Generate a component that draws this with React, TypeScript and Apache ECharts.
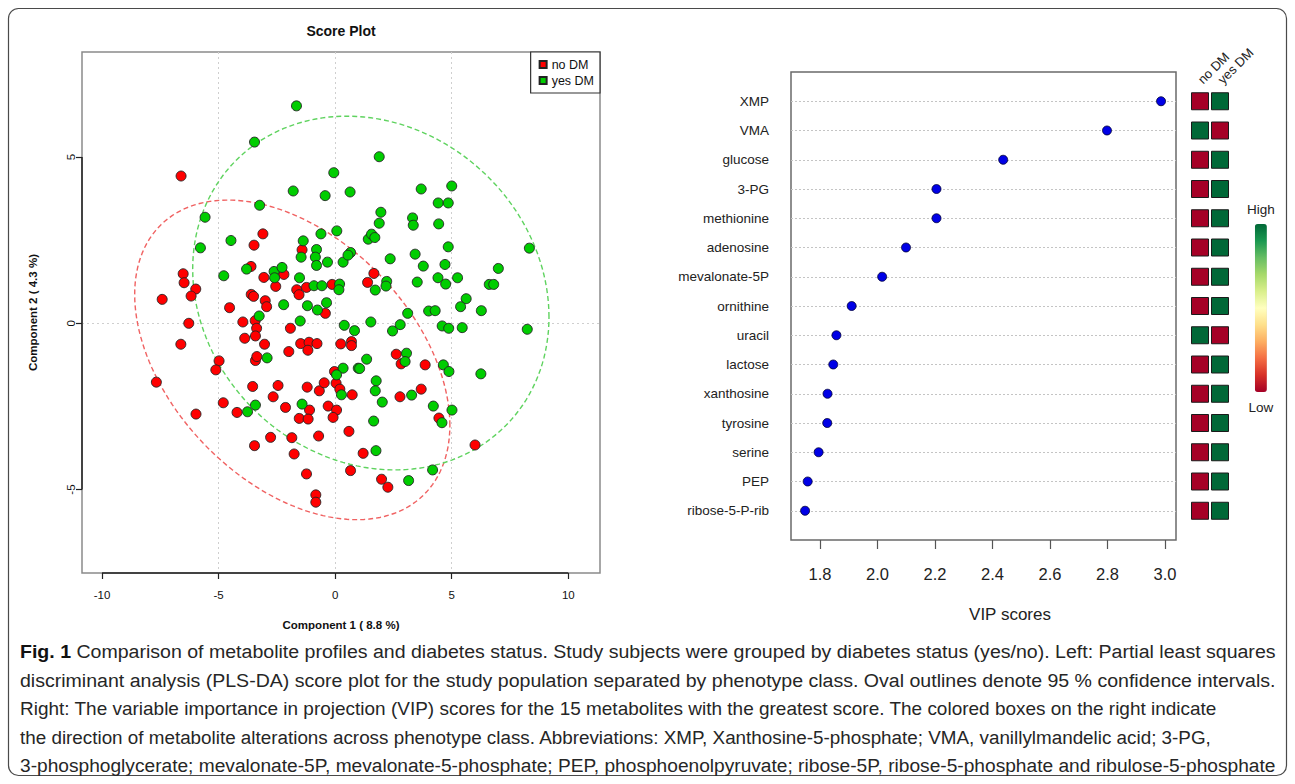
import React, { useEffect, useRef } from "react";
import * as echarts from "echarts";

// ---------- Score plot data (Component 1, Component 2) ----------
const noDM: number[][] = [
  [-6.61, 4.43], [-3.1, 2.69], [-3.48, 2.35], [-1.42, 2.21], [-6.52, 1.49], [-6.48, 1.22],
  [-5.98, 1.03], [-6.18, 0.82], [-7.42, 0.72], [-3.61, 1.71], [-3.06, 1.38], [-2.2, 1.47],
  [-2.55, 1.11], [-1.65, 1.01], [-1.55, 0.86], [-1.23, 1.08], [-0.13, 1.17], [-3.6, 0.87],
  [-3.5, 0.81], [-3.0, 0.68], [-2.94, 0.5], [-4.53, 0.47], [-0.42, 0.3], [-6.28, 0.0],
  [-3.96, 0.04], [-3.43, 0.08], [-3.37, -0.15], [-3.42, -0.38], [-1.92, -0.15], [-6.62, -0.63],
  [-3.88, -0.45], [-3.03, -0.63], [-1.99, -0.85], [-1.48, -0.61], [-1.12, -0.57], [-1.17, -0.81],
  [-0.78, -0.61], [0.24, -0.62], [0.7, -0.55], [0.7, -0.67], [-4.98, -1.13], [-5.12, -1.4],
  [-3.42, -1.12], [-3.36, -1.0], [-7.67, -1.77], [-3.54, -1.9], [-2.45, -1.87], [-2.66, -2.21],
  [-1.2, -1.92], [-0.68, -2.03], [-0.47, -1.79], [-0.03, -1.45], [0.04, -1.8], [0.2, -1.98],
  [0.73, -2.15], [-4.8, -2.39], [-4.21, -2.68], [-5.97, -2.73], [-2.13, -2.53], [-1.1, -2.61],
  [-1.54, -2.86], [-1.16, -2.88], [-0.3, -2.49], [0.06, -2.61], [-0.09, -2.83], [-2.77, -3.43],
  [-3.46, -3.68], [-1.86, -3.44], [-1.76, -3.93], [-0.71, -3.39], [0.59, -3.25], [-1.23, -4.53],
  [-0.83, -5.16], [-0.83, -5.38], [0.66, -4.43], [1.2, -3.91], [1.66, 1.5], [1.39, 1.23],
  [2.62, -0.93], [2.83, -1.22], [3.86, -1.25], [3.69, -1.98], [2.78, -2.21], [4.45, -2.85],
  [1.99, -4.69], [2.26, -4.93], [6.0, -3.66],
];

const yesDM: number[][] = [
  [-1.66, 6.54], [-3.46, 5.45], [-0.06, 4.53], [-1.8, 3.98], [-0.43, 3.84], [0.64, 3.95],
  [-3.24, 3.55], [-5.58, 3.19], [0.07, 2.78], [-0.61, 2.69], [-5.78, 2.27], [-4.47, 2.49],
  [-1.37, 2.48], [-0.8, 2.22], [-1.46, 1.99], [-0.85, 1.99], [-0.33, 1.84], [-0.8, 1.74],
  [0.34, 1.84], [0.66, 2.13], [0.55, 2.05], [-3.8, 1.63], [-2.62, 1.56], [-2.28, 1.68],
  [-2.6, 1.37], [-4.78, 1.43], [-1.53, 1.37], [-0.91, 1.13], [-0.57, 1.13], [0.19, 1.18],
  [0.16, 1.01], [-2.21, 0.56], [-1.19, 0.53], [-0.76, 0.4], [-0.37, 0.62], [-3.26, 0.22],
  [-1.5, 0.07], [0.39, -0.06], [0.83, -0.22], [-2.92, -1.04], [0.34, -1.35], [0.06, -1.55],
  [0.99, -1.35], [0.27, -2.15], [-3.42, -2.46], [-3.76, -2.66], [-1.42, -2.43], [1.89, 5.01],
  [3.69, 4.04], [5.0, 4.13], [4.42, 3.62], [4.85, 3.62], [1.96, 3.34], [1.89, 3.01],
  [3.32, 3.17], [3.35, 2.95], [4.44, 2.99], [1.42, 2.53], [1.56, 2.68], [1.7, 2.58],
  [4.85, 2.3], [8.33, 2.26], [3.43, 2.08], [2.36, 1.94], [3.78, 1.72], [4.71, 1.77],
  [7.0, 1.65], [3.52, 1.24], [4.41, 1.37], [4.74, 1.18], [5.25, 1.37], [6.61, 1.17],
  [6.8, 1.17], [2.21, 1.26], [2.18, 1.12], [1.72, 1.0], [5.62, 0.74], [5.38, 0.5],
  [6.27, 0.38], [4.01, 0.37], [4.29, 0.38], [3.11, 0.3], [1.53, 0.04], [8.24, -0.18],
  [2.46, -0.23], [2.79, -0.04], [4.59, -0.08], [4.87, -0.15], [5.45, -0.13], [3.06, -0.9],
  [3.0, -1.15], [1.35, -1.08], [1.05, -1.36], [1.76, -1.73], [1.72, -2.03], [2.02, -2.37],
  [3.28, -2.16], [4.64, -1.25], [4.88, -1.45], [6.25, -1.52], [4.21, -2.49], [5.01, -2.61],
  [4.58, -2.99], [1.65, -2.94], [1.75, -3.83], [4.18, -4.41], [3.15, -4.73],
];

// 95% ellipses: [centerX, centerY, varX, varY, covXY]
const noDMEllipse = [-1.84, -1.1, 45.7, 23.1, -13.3];
const yesDMEllipse = [1.53, 0.91, 58.4, 28.3, -5.5];

// Score plot axis extents and ticks
const scoreXMin = -10.86;
const scoreXMax = 11.36;
const scoreYMin = -7.51;
const scoreYMax = 8.16;
const scoreXTicks = [-10, -5, 0, 5, 10];
const scoreYTicks = [-5, 0, 5];

// ---------- VIP data ----------
const metabolites = [
  "XMP", "VMA", "glucose", "3-PG", "methionine", "adenosine", "mevalonate-5P",
  "ornithine", "uracil", "lactose", "xanthosine", "tyrosine", "serine", "PEP", "ribose-5-P-rib",
];
const vipScores = [2.986, 2.798, 2.437, 2.205, 2.205, 2.099, 2.016, 1.91, 1.857, 1.846, 1.826, 1.825, 1.795, 1.757, 1.748];
// relative level (0 = low, 1 = high)
const noDMLevel = [0, 1, 0, 0, 0, 0, 0, 0, 1, 0, 0, 0, 0, 0, 0];
const yesDMLevel = [1, 0, 1, 1, 1, 1, 1, 1, 0, 1, 1, 1, 1, 1, 1];
const groups = ["no DM", "yes DM"];
const vipTicks = [1.8, 2.0, 2.2, 2.4, 2.6, 2.8, 3.0];
const vipXMin = 1.699;
const vipXMax = 3.038;

const rdYlGn = ["#a50026", "#d73027", "#f46d43", "#fdae61", "#fee08b", "#ffffbf", "#d9ef8b", "#a6d96a", "#66bd63", "#1a9850", "#006837"];

const captionBold = "Fig. 1";
const captionLines = [
  " Comparison of metabolite profiles and diabetes status. Study subjects were grouped by diabetes status (yes/no). Left: Partial least squares",
  "discriminant analysis (PLS-DA) score plot for the study population separated by phenotype class. Oval outlines denote 95 % confidence intervals.",
  "Right: The variable importance in projection (VIP) scores for the 15 metabolites with the greatest score. The colored boxes on the right indicate",
  "the direction of metabolite alterations across phenotype class. Abbreviations: XMP, Xanthosine-5-phosphate; VMA, vanillylmandelic acid; 3-PG,",
  "3-phosphoglycerate; mevalonate-5P, mevalonate-5-phosphate; PEP, phosphoenolpyruvate; ribose-5P, ribose-5-phosphate and ribulose-5-phosphate",
];
// right edge (px) each caption line reaches in the layout
const captionRightEdge = [1276, 1276, 1218, 1213, 1276];

const FONT = "'Liberation Sans', Arial, Helvetica, sans-serif";
const CAPTION_SIZE = 19;

function measureText(text: string, size: number, weight: string): number {
  const c = document.createElement("canvas");
  const ctx = c.getContext("2d");
  if (!ctx) return text.length * size * 0.5;
  ctx.font = `${weight} ${size}px 'Liberation Sans', Arial, sans-serif`;
  return ctx.measureText(text).width;
}

function ellipseRenderer(color: string) {
  return (_params: any, api: any) => {
    const cx = api.value(0);
    const cy = api.value(1);
    const sxx = api.value(2);
    const syy = api.value(3);
    const sxy = api.value(4);
    const hx = Math.sqrt(sxx);
    const k = sxy / hx;
    const r = Math.sqrt(syy - k * k);
    const pts: number[][] = [];
    const n = 160;
    for (let i = 0; i <= n; i++) {
      const t = (i / n) * Math.PI * 2;
      pts.push(api.coord([cx + hx * Math.cos(t), cy + k * Math.cos(t) + r * Math.sin(t)]));
    }
    return {
      type: "polyline",
      silent: true,
      shape: { points: pts },
      style: { stroke: color, fill: "none", lineWidth: 1.4, lineDash: [5, 3] },
    };
  };
}

export default function App() {
  const ref = useRef<HTMLDivElement>(null);

  useEffect(() => {
    if (!ref.current) return;
    const chart = echarts.init(ref.current, undefined, { renderer: "svg" });

    const heatData: number[][] = [];
    metabolites.forEach((_m, i) => {
      heatData.push([0, i, noDMLevel[i]]);
      heatData.push([1, i, yesDMLevel[i]]);
    });

    const boldW = measureText(captionBold, CAPTION_SIZE, "bold");
    const captionGraphics = captionLines.map((line, i) => {
      const isFirst = i === 0;
      const w = measureText(line, CAPTION_SIZE, "normal") + (isFirst ? boldW : 0);
      const s = (captionRightEdge[i] - 20) / w;
      return {
        type: "text", silent: true, x: 20, y: 652 + i * 28.4, scaleX: s, scaleY: 1,
        style: {
          text: isFirst ? `{b|${captionBold}}${line}` : line,
          fontSize: CAPTION_SIZE, fontFamily: FONT, fill: "#262626", align: "left", verticalAlign: "middle",
          rich: { b: { fontSize: CAPTION_SIZE, fontWeight: "bold", fontFamily: FONT, fill: "#111" } },
        },
      };
    });

    const option: any = {
      animation: false,
      backgroundColor: "#ffffff",
      textStyle: { fontFamily: FONT },
      grid: [
        { left: 82, top: 52, width: 518, height: 521, show: true, borderColor: "#8a8a8a", borderWidth: 1.5, backgroundColor: "transparent" },
        { left: 791, top: 72, width: 385, height: 468, show: true, borderColor: "#6a6a6a", borderWidth: 1.5, backgroundColor: "transparent" },
        { left: 1190, top: 86.625, width: 40, height: 453.375, show: false },
      ],
      xAxis: [
        {
          gridIndex: 0, type: "value", min: scoreXMin, max: scoreXMax, splitNumber: 4,
          name: "Component 1 ( 8.8 %)", nameLocation: "middle", nameGap: 46,
          nameTextStyle: { fontSize: 11.5, fontWeight: "bold", color: "#111", fontFamily: FONT },
          axisLine: { show: false, onZero: false },
          axisTick: { show: true, customValues: scoreXTicks, length: 6, lineStyle: { color: "#222", width: 1.2 } },
          axisLabel: { customValues: scoreXTicks, fontSize: 11.5, color: "#111", margin: 16, formatter: (v: number) => String(v) },
          splitLine: { show: true, showMinLine: false, showMaxLine: false, lineStyle: { color: "#cfcfcf", type: [2, 3], width: 1 } },
        },
        {
          gridIndex: 1, type: "value", min: vipXMin, max: vipXMax,
          axisLine: { show: false, onZero: false },
          axisTick: { show: true, customValues: vipTicks, length: 9, lineStyle: { color: "#555", width: 1.2 } },
          axisLabel: { customValues: vipTicks, fontSize: 16.5, color: "#222", margin: 25, formatter: (v: number) => v.toFixed(1) },
          splitLine: { show: false },
        },
        {
          gridIndex: 2, type: "category", data: groups, position: "top",
          axisLine: { show: false, onZero: false }, axisTick: { show: false },
          axisLabel: { interval: 0, rotate: -45, fontSize: 13, color: "#222", margin: 5, align: "left", verticalAlign: "middle" },
        },
      ],
      yAxis: [
        {
          gridIndex: 0, type: "value", min: scoreYMin, max: scoreYMax, splitNumber: 3,
          name: "Component 2 ( 4.3 %)", nameLocation: "middle", nameGap: 43,
          nameTextStyle: { fontSize: 11.5, fontWeight: "bold", color: "#111", fontFamily: FONT },
          axisLine: { show: false, onZero: false },
          axisTick: { show: true, customValues: scoreYTicks, length: 6, lineStyle: { color: "#222", width: 1.2 } },
          axisLabel: { customValues: scoreYTicks, fontSize: 11.5, color: "#111", margin: 5, rotate: 90, formatter: (v: number) => String(v) },
          splitLine: { show: true, showMinLine: false, showMaxLine: false, lineStyle: { color: "#cfcfcf", type: [2, 3], width: 1 } },
        },
        {
          gridIndex: 1, type: "value", min: -1, max: 15, interval: 1, inverse: true,
          axisLine: { show: false, onZero: false }, axisTick: { show: false },
          axisLabel: { fontSize: 13.5, color: "#222", margin: 22, formatter: (v: number) => metabolites[v] ?? "" },
          splitLine: { show: true, showMinLine: false, showMaxLine: false, lineStyle: { color: "#c4c4c4", type: [2, 2], width: 1 } },
        },
        {
          gridIndex: 2, type: "value", min: -0.5, max: 15, inverse: true, show: false,
          axisLine: { onZero: false },
        },
      ],
      legend: {
        right: 695, top: 52, orient: "vertical",
        data: [{ name: "no DM", icon: "rect" }, { name: "yes DM", icon: "rect" }],
        itemWidth: 7, itemHeight: 7, itemGap: 3,
        padding: [6, 6, 6, 8],
        borderColor: "#333", borderWidth: 1.2, backgroundColor: "#fff",
        textStyle: { fontSize: 12.5, color: "#111", padding: [0, 0, 0, 0] },
        selectedMode: false,
      },
      visualMap: {
        type: "continuous", min: 0, max: 1, dimension: 2, seriesIndex: 5,
        inRange: { color: rdYlGn },
        text: ["High", "Low"], textGap: 8,
        left: 1232, top: 187, itemWidth: 12, itemHeight: 168,
        calculable: false, hoverLink: false,
        textStyle: { fontSize: 13.5, color: "#222" },
      },
      series: [
        {
          name: "no DM", type: "scatter", xAxisIndex: 0, yAxisIndex: 0, data: noDM, symbolSize: 10,
          itemStyle: { color: "#ff0000", borderColor: "#222", borderWidth: 0.9, opacity: 1 },
          markLine: {
            silent: true, symbol: ["none", "none"], label: { show: false },
            lineStyle: { color: "#222", type: "solid", width: 1.5 },
            data: [
              [{ coord: [scoreXTicks[0], scoreYMin] }, { coord: [scoreXTicks[scoreXTicks.length - 1], scoreYMin] }],
              [{ coord: [scoreXMin, scoreYTicks[0]] }, { coord: [scoreXMin, scoreYTicks[scoreYTicks.length - 1]] }],
            ],
          },
        },
        {
          name: "yes DM", type: "scatter", xAxisIndex: 0, yAxisIndex: 0, data: yesDM, symbolSize: 10,
          itemStyle: { color: "#00cd00", borderColor: "#222", borderWidth: 0.9, opacity: 1 },
        },
        {
          name: "noDM ellipse", type: "custom", xAxisIndex: 0, yAxisIndex: 0, silent: true,
          data: [noDMEllipse], encode: { x: 0, y: 1 }, renderItem: ellipseRenderer("#f06262"),
        },
        {
          name: "yesDM ellipse", type: "custom", xAxisIndex: 0, yAxisIndex: 0, silent: true,
          data: [yesDMEllipse], encode: { x: 0, y: 1 }, renderItem: ellipseRenderer("#5fd35f"),
        },
        {
          name: "VIP", type: "scatter", xAxisIndex: 1, yAxisIndex: 1, symbolSize: 9,
          data: metabolites.map((_m, i) => [vipScores[i], i]),
          itemStyle: { color: "#0000e6", borderColor: "#000033", borderWidth: 0.8, opacity: 1 },
        },
        {
          name: "levels", type: "scatter", xAxisIndex: 2, yAxisIndex: 2, symbol: "rect", symbolSize: 17,
          data: heatData,
          itemStyle: { borderColor: "#1a1a1a", borderWidth: 1, opacity: 1 },
        },
      ],
      graphic: [
        {
          type: "rect", silent: true, z: -1,
          shape: { x: 8.5, y: 8.5, width: 1278, height: 767, r: 10 },
          style: { fill: "none", stroke: "#4a4a4a", lineWidth: 1.2 },
        },
        {
          type: "text", silent: true, x: 341, y: 31,
          style: { text: "Score Plot", fontSize: 14, fontWeight: "bold", fontFamily: FONT, fill: "#111", align: "center", verticalAlign: "middle" },
        },
        {
          type: "text", silent: true, x: 1010, y: 614,
          style: { text: "VIP scores", fontSize: 17, fontFamily: FONT, fill: "#222", align: "center", verticalAlign: "middle" },
        },
        ...captionGraphics,
      ],
    };

    chart.setOption(option);
    return () => chart.dispose();
  }, []);

  return (
    <div
      ref={ref}
      style={{ position: "fixed", left: 0, top: 0, width: 1295, height: 784, background: "#fff" }}
    />
  );
}
